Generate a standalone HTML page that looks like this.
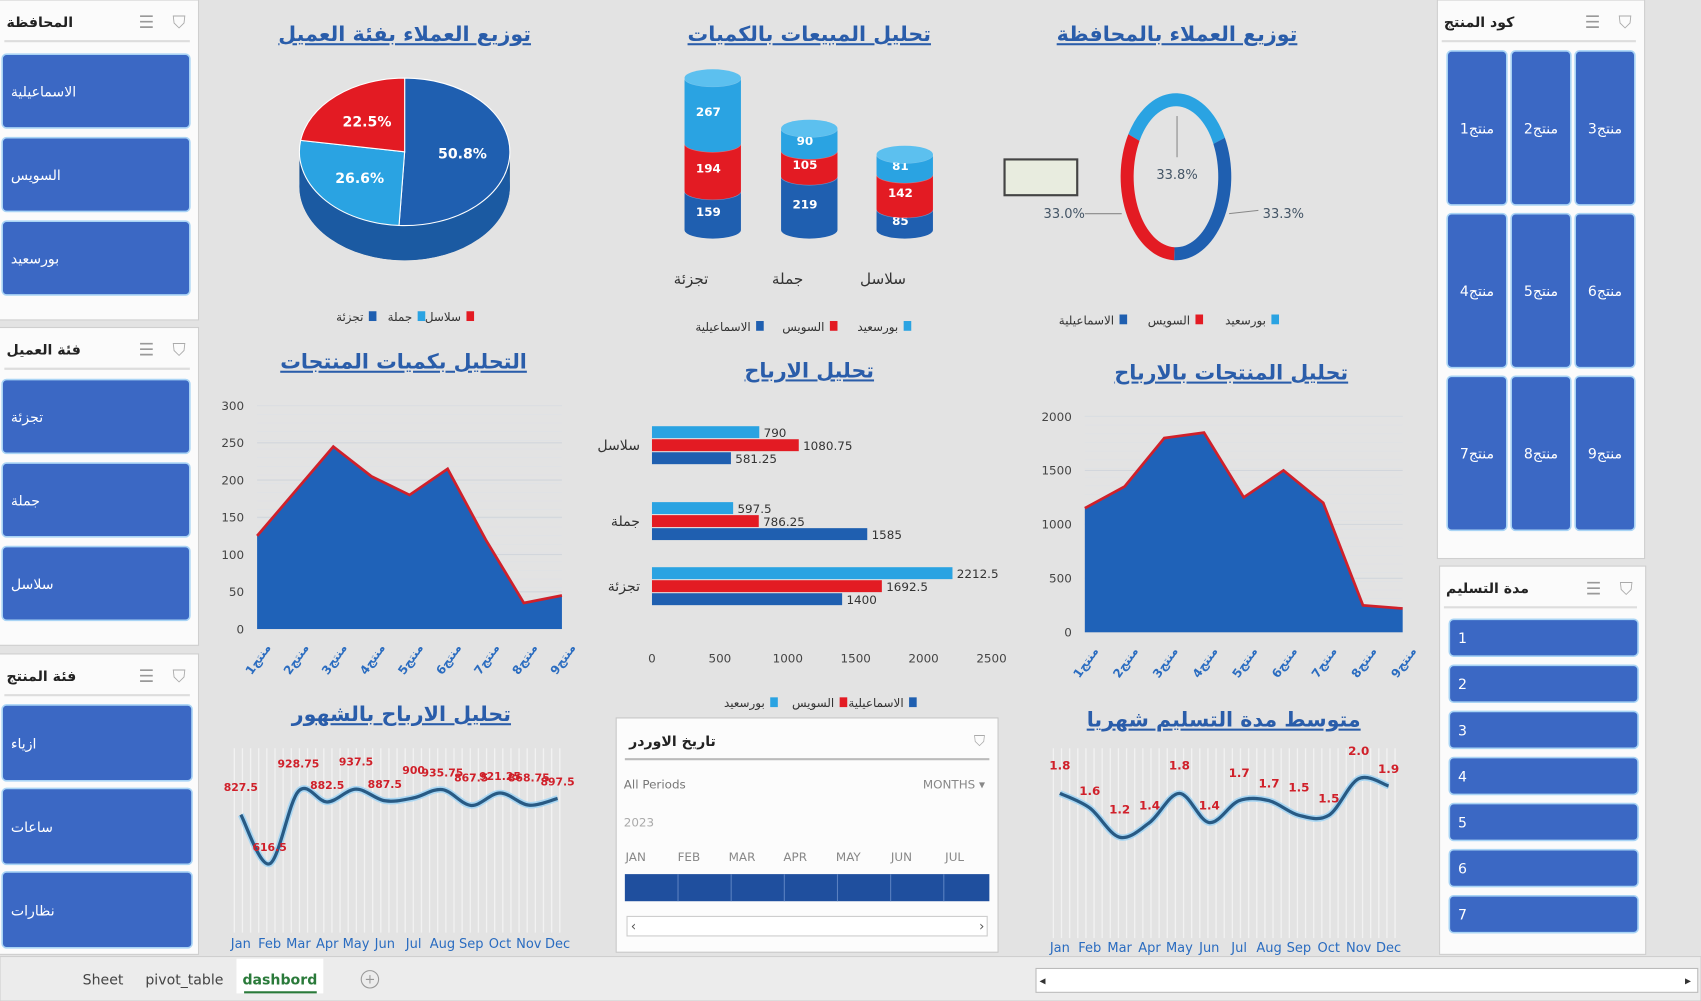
<!DOCTYPE html>
<html><head><meta charset="utf-8">
<style>
html,body{margin:0;padding:0;background:#e3e3e3;overflow:hidden}
svg{display:block}
text{font-family:"DejaVu Sans","Liberation Sans",sans-serif}
</style></head>
<body>
<svg id="s" width="1701" height="1001" viewBox="0 0 1568 923" preserveAspectRatio="none" xmlns="http://www.w3.org/2000/svg">
<rect x="0" y="0" width="1568" height="923" fill="#e3e3e3"/>
<g id="g"></g>
</svg>
<script>
// ---------- DATA ----------
const pieLabels = ['تجزئة','جملة','سلاسل'];
const pieValues = [50.8, 26.6, 22.5];
const cylCats = ['تجزئة','جملة','سلاسل'];
const cylIsmailia = [159, 219, 85];
const cylSuez = [194, 105, 142];
const cylPortSaid = [267, 90, 81];
const donutLabels = ['بورسعيد','الاسماعيلية','السويس'];
const donutValues = [33.8, 33.3, 33.0];
const donutText = ['33.8%','33.3%','33.0%'];
const qtyCats = ['منتج1','منتج2','منتج3','منتج4','منتج5','منتج6','منتج7','منتج8','منتج9'];
const qtyValues = [125, 185, 245, 205, 180, 215, 120, 35, 45];
const qtyTicks = [0,50,100,150,200,250,300];
const profCats = ['سلاسل','جملة','تجزئة'];
const profPortSaid = [790, 597.5, 2212.5];
const profSuez = [1080.75, 786.25, 1692.5];
const profIsmailia = [581.25, 1585, 1400];
const profTicks = [0,500,1000,1500,2000,2500];
const prodProfit = [1150, 1350, 1800, 1850, 1250, 1500, 1200, 250, 220];
const prodTicks = [0,500,1000,1500,2000];
const months = ['Jan','Feb','Mar','Apr','May','Jun','Jul','Aug','Sep','Oct','Nov','Dec'];
const monthProfit = [827.5, 616.5, 928.75, 882.5, 937.5, 887.5, 900, 935.75, 867.5, 921.25, 868.75, 897.5];
const monthProfitLbl = ['827.5','616.5','928.75','882.5','937.5','887.5','900','935.75','867.5','921.25','868.75','897.5'];
const delivery = [1.8, 1.6, 1.2, 1.4, 1.8, 1.4, 1.7, 1.7, 1.5, 1.5, 2.0, 1.9];
const govItems = ['الاسماعيلية','السويس','بورسعيد'];
const custItems = ['تجزئة','جملة','سلاسل'];
const prodCatItems = ['ازياء','ساعات','نظارات'];
const deliveryItems = ['1','2','3','4','5','6','7'];

const NS='http://www.w3.org/2000/svg';
const G=document.getElementById('g');
function mk(tag,attrs,parent){const e=document.createElementNS(NS,tag);for(const k in attrs)e.setAttribute(k,attrs[k]);(parent||G).appendChild(e);return e;}
function txt(x,y,s,size,fill,anchor,parent,weight){const t=mk('text',{x:x,y:y,'font-size':size,fill:fill,'text-anchor':anchor||'middle','font-weight':weight||'normal'},parent);t.textContent=s;return t;}
const DARK='#1f5fb0', LIGHT='#2aa3e2', RED='#e31b23', BTN='#3b68c4';

function title(x,y,s,name){
  const t=txt(x,y,s,19,'#2a5daa','middle',null,'bold');
  t.setAttribute('text-decoration','underline');
  
  
}

// ---------- Slicers ----------
function slicer(x,y,w,h,head,items,name){
  const g=mk('g',{});
  
  
  mk('rect',{x:x,y:y,width:w,height:h,fill:'#fbfbfb',stroke:'#cfcfcf'},g);
  txt(Math.max(x,0)+6, y+25, head, 13, '#222','start',g,'bold');
  txt(x+w-48, y+26,'☰',16,'#999','middle',g);
  txt(x+w-18, y+26,'⛉',16,'#aaa','middle',g);
  mk('line',{x1:Math.max(x,0)+4,x2:x+w-8,y1:y+38,y2:y+38,stroke:'#ddd','stroke-width':2},g);
  return g;
}
function btn(x,y,w,h,label,name,parent,anchor){
  const b=mk('g',{},parent);
  
  
  mk('rect',{x:x,y:y,width:w,height:h,rx:4,fill:BTN,stroke:'#a9d4f5','stroke-width':1.5},b);
  txt(anchor==='c'?x+w/2:x+8,y+h/2+5,label,13,'#fff',anchor==='c'?'middle':'start',b);
}
let s1=slicer(-10,0,193,295,'المحافظة',govItems,'governorate-slicer');
govItems.forEach((it,i)=>btn(2,50+i*77,173,68,it,'governorate-item',s1));
let s2=slicer(-10,302,193,293,'فئة العميل',custItems,'customer-category-slicer');
custItems.forEach((it,i)=>btn(2,350+i*77,173,68,it,'customer-category-item',s2));
let s3=slicer(-10,603,193,277,'فئة المنتج',prodCatItems,'product-category-slicer');
prodCatItems.forEach((it,i)=>btn(2,650+i*77,175,70,it,'product-category-item',s3));
let s4=slicer(1325,0,191,515,'كود المنتج',qtyCats,'product-code-slicer');
qtyCats.forEach((it,i)=>{const c=i%3,r=Math.floor(i/3);btn(1334+c*59,47+r*150,55,142,it,'product-code-item',s4,'c');});
let s5=slicer(1327,522,190,358,'مدة التسليم',deliveryItems,'delivery-duration-slicer');
deliveryItems.forEach((it,i)=>btn(1336,571+i*42.5,174,34,it,'delivery-duration-item',s5));

// ---------- Titles ----------
title(373,38,'توزيع العملاء بفئة العميل','pie-title');
title(746,38,'تحليل المبيعات بالكميات','cylinder-title');
title(1085,38,'توزيع العملاء بالمحافظة','donut-title');
title(372,340,'التحليل بكميات المنتجات','qty-area-title');
title(746,348,'تحليل الارباح','profit-bar-title');
title(1135,350,'تحليل المنتجات بالارباح','product-profit-title');
title(370,665,'تحليل الارباح بالشهور','monthly-profit-title');
title(1128,670,'متوسط مدة التسليم شهريا','delivery-title');

// ---------- Pie (3D) ----------
(function(){
  const cx=373,cy=140,rx=97,ry=68,d=32;
  const tot=pieValues.reduce((a,b)=>a+b,0);
  const cols=[DARK,LIGHT,RED];
  const side=mk('path',{d:`M${cx-rx},${cy} L${cx-rx},${cy+d} A${rx},${ry} 0 0 0 ${cx+rx},${cy+d} L${cx+rx},${cy} Z`,fill:'#15508f'});
  
  
  mk('ellipse',{cx:cx,cy:cy+d,rx:rx,ry:ry,fill:'#1b5aa2'});
  let a=-Math.PI/2;
  pieValues.forEach((v,i)=>{
    const a2=a+v/tot*2*Math.PI;
    const x1=cx+rx*Math.cos(a),y1=cy+ry*Math.sin(a),x2=cx+rx*Math.cos(a2),y2=cy+ry*Math.sin(a2);
    const p=mk('path',{d:`M${cx},${cy} L${x1},${y1} A${rx},${ry} 0 ${a2-a>Math.PI?1:0} 1 ${x2},${y2} Z`,fill:cols[i],stroke:'#fff','stroke-width':1});
    
    
    const m=(a+a2)/2;
    const t=txt(cx+rx*0.55*Math.cos(m),cy+ry*0.55*Math.sin(m)+5,v.toFixed(1)+'%',13,'#fff','middle',null,'bold');
    
    
    a=a2;
  });
  [ 'سلاسل','جملة','تجزئة'].forEach((l,i)=>{
    const c=[RED,LIGHT,DARK][i];
    mk('rect',{x:430-i*45,y:287,width:7,height:9,fill:c});
    const t=txt(425-i*45,296,l,11,'#333','end');
    
    
  });
})();

// ---------- Cylinders ----------
(function(){
  const base=212, k=0.226, w=52, ry=8;
  const xs=[657,746,834];
  cylCats.forEach((c,i)=>{
    const segs=[[cylIsmailia[i],DARK],[cylSuez[i],RED],[cylPortSaid[i],LIGHT]];
    let y=base;
    const g=mk('g',{});
    
    
    segs.forEach(([v,col],j)=>{
      const h=v*k, x=xs[i]-w/2, yt=y-h;
      mk('path',{d:`M${x},${yt} L${x},${y} A${w/2},${ry} 0 0 0 ${x+w},${y} L${x+w},${yt} Z`,fill:col},g);
      mk('path',{d:`M${x},${yt} A${w/2},${ry} 0 0 0 ${x+w},${yt}`,fill:'none',stroke:'rgba(255,255,255,0.35)','stroke-width':1},g);
      txt(xs[i]-4,y-h/2+5,String(v),11,'#fff','middle',g,'bold');
      y=yt;
    });
    mk('ellipse',{cx:xs[i],cy:y,rx:w/2,ry:ry,fill:'#5cc0ef'},g);
    const t=txt(xs[i]-20,262,c,14,'#333','middle');
    
    
  });
  ['بورسعيد','السويس','الاسماعيلية'].forEach((l,i)=>{
    const c=[LIGHT,RED,DARK][i];
    mk('rect',{x:833-i*68,y:296,width:7,height:9,fill:c});
    const t=txt(828-i*68,305,l,11,'#333','end');
    
    
  });
})();

// ---------- Donut ----------
(function(){
  const cx=1084,cy=163,rx=51,ry=77,th=12;
  mk('rect',{x:926,y:147,width:67,height:33,fill:'#e8ecdf',stroke:'#444','stroke-width':2});
  const tot=donutValues.reduce((a,b)=>a+b,0);
  const cols=[LIGHT,DARK,RED];
  let a=-Math.PI*0.83;
  donutValues.forEach((v,i)=>{
    const a2=a+v/tot*2*Math.PI;
    const P=(r1,r2,t)=>[cx+r1*Math.cos(t),cy+r2*Math.sin(t)];
    const [x1,y1]=P(rx,ry,a),[x2,y2]=P(rx,ry,a2),[x3,y3]=P(rx-th,ry-th,a2),[x4,y4]=P(rx-th,ry-th,a);
    const big=a2-a>Math.PI?1:0;
    const p=mk('path',{d:`M${x1},${y1} A${rx},${ry} 0 ${big} 1 ${x2},${y2} L${x3},${y3} A${rx-th},${ry-th} 0 ${big} 0 ${x4},${y4} Z`,fill:cols[i]});
    
    
    a=a2;
  });
  mk('line',{x1:1085,y1:107,x2:1085,y2:145,stroke:'#888'});
  mk('line',{x1:1000,y1:197,x2:1034,y2:197,stroke:'#888'});
  mk('line',{x1:1133,y1:197,x2:1160,y2:194,stroke:'#888'});
  [[1085,165,0],[1183,201,1],[981,201,2]].forEach(([x,y,i])=>{
    const t=txt(x,y,donutText[i],12,'#456','middle');
    
    
  });
  ['بورسعيد','السويس','الاسماعيلية'].forEach((l,i)=>{
    const c=[LIGHT,RED,DARK][i];
    mk('rect',{x:1172-i*70,y:290,width:7,height:9,fill:c});
    const t=txt(1167-i*70,299,l,11,'#333','end');
    
    
  });
})();

// ---------- Area charts ----------
function area(x0,x1,y0,yTop,max,ticks,vals,name,tickX){
  const sx=i=>x0+i*(x1-x0)/(vals.length-1), sy=v=>y0-(v/max)*(y0-yTop);
  const g=mk('g',{});
  
  
  ticks.forEach(t=>{
    mk('line',{x1:x0,x2:x1,y1:sy(t),y2:sy(t),stroke:'#d2d6dc','stroke-width':1},g);
    const lb=txt(tickX,sy(t)+4,String(t),11,'#444','end',g);
    
    
  });
  for(let y=yTop;y<y0;y+=8) mk('line',{x1:x0,x2:x1,y1:y,y2:y,stroke:'#dfe2e6','stroke-width':0.6},g);
  let d=`M${sx(0)},${y0}`;vals.forEach((v,i)=>d+=` L${sx(i)},${sy(v)}`);d+=` L${sx(vals.length-1)},${y0} Z`;
  const p=mk('path',{d:d,fill:'#1f62b8'},g);
  
  
  let l='';vals.forEach((v,i)=>l+=(i?' L':'M')+sx(i)+','+sy(v));
  mk('path',{d:l,fill:'none',stroke:'#d0202a','stroke-width':2.5},g);
  qtyCats.forEach((c,i)=>{
    const t=txt(sx(i)+4,y0+30,c,11,'#2a6cc0','middle',g,'bold');
    t.setAttribute('transform',`rotate(-55 ${sx(i)+4} ${y0+30})`);
    
    
  });
}
area(237,518,580,374,300,qtyTicks,qtyValues,'qty-area-chart',225);
area(1000,1293,583,384,2000,prodTicks,prodProfit,'product-profit-area-chart',988);

// ---------- Horizontal bar chart ----------
(function(){
  const x0=601, px=(914-601)/2500, sx=v=>x0+v*px;
  const g=mk('g',{});
  
  
  const centers=[411,481,541];
  profCats.forEach((c,i)=>{
    const cy=centers[i];
    const series=[[profPortSaid[i],LIGHT],[profSuez[i],RED],[profIsmailia[i],DARK]];
    series.forEach(([v,col],j)=>{
      const y=cy-18+j*12;
      const b=mk('rect',{x:x0,y:y,width:sx(v)-x0,height:11,fill:col},g);
      
      
      const t=txt(sx(v)+4,y+10,String(v),11,'#333','start',g);
      
      
    });
    const t=txt(590,cy+4,c,13,'#333','end',g);
    
    
  });
  profTicks.forEach(t=>{
    const l=txt(sx(t),611,String(t),11,'#444','middle',g);
    
    
  });
  ['الاسماعيلية','السويس','بورسعيد'].forEach((l,i)=>{
    const c=[DARK,RED,LIGHT][i];
    mk('rect',{x:838-i*64,y:643,width:7,height:9,fill:c},g);
    const t=txt(833-i*64,652,l,11,'#333','end',g);
    
    
  });
})();

// ---------- Smooth line charts ----------
function smooth(pts){
  let d=`M${pts[0][0]},${pts[0][1]}`;
  for(let i=0;i<pts.length-1;i++){
    const p0=pts[i-1]||pts[i],p1=pts[i],p2=pts[i+1],p3=pts[i+2]||p2;
    const c1=[p1[0]+(p2[0]-p0[0])/6,p1[1]+(p2[1]-p0[1])/6],c2=[p2[0]-(p3[0]-p1[0])/6,p2[1]-(p3[1]-p1[1])/6];
    d+=` C${c1[0]},${c1[1]} ${c2[0]},${c2[1]} ${p2[0]},${p2[1]}`;
  }
  return d;
}
function lineChart(x0,x1,vals,labels,vmin,vmax,yLo,yHi,name,gridTop,gridBot,monthY,fs){
  const sx=i=>x0+i*(x1-x0)/(vals.length-1), sy=v=>yLo-(v-vmin)/(vmax-vmin)*(yLo-yHi);
  const g=mk('g',{});
  
  
  for(let x=x0-6;x<=x1+6;x+=7.5) mk('line',{x1:x,x2:x,y1:gridTop,y2:gridBot,stroke:'#f2f2f2','stroke-width':1.2},g);
  const pts=vals.map((v,i)=>[sx(i),sy(v)]);
  mk('path',{d:smooth(pts),fill:'none',stroke:'#a9d6f2','stroke-width':6},g);
  const p=mk('path',{d:smooth(pts),fill:'none',stroke:'#285a84','stroke-width':3},g);
  
  
  vals.forEach((v,i)=>{
    const t=txt(sx(i),sy(v)-(i%2?12:22),labels[i],fs,'#d0202a','middle',g,'bold');
    
    
    const m=txt(sx(i),monthY,months[i],12,'#2a6cc0','middle',g);
    
    
  });
}
lineChart(222,514,monthProfit,monthProfitLbl,600,950,800,725,'monthly-profit-chart',690,860,874,10);
lineChart(977,1280,delivery,delivery.map(v=>v.toFixed(1)),1.2,2.0,772,718,'delivery-chart',690,865,878,11);

// ---------- Timeline ----------
(function(){
  const g=mk('g',{});
  
  
  mk('rect',{x:568,y:662,width:352,height:216,fill:'#fcfcfc',stroke:'#c8c8c8'},g);
  txt(580,688,'تاريخ الاوردر',13,'#222','start',g,'bold');
  txt(903,688,'⛉',14,'#aaa','middle',g);
  mk('line',{x1:576,x2:912,y1:700,y2:700,stroke:'#bbb','stroke-width':2},g);
  txt(575,727,'All Periods',11,'#777','start',g);
  txt(908,727,'MONTHS ▾',11,'#888','end',g);
  txt(575,762,'2023',11,'#aaa','start',g);
  ['JAN','FEB','MAR','APR','MAY','JUN','JUL'].forEach((m,i)=>txt(586+i*49,794,m,11,'#888','middle',g));
  mk('rect',{x:576,y:806,width:336,height:25,fill:'#1f4f9e'},g);
  for(let i=1;i<7;i++) mk('line',{x1:576+i*49,x2:576+i*49,y1:806,y2:831,stroke:'#5a80c0'},g);
  mk('rect',{x:578,y:845,width:332,height:18,fill:'#fff',stroke:'#ccc'},g);
  txt(584,858,'‹',12,'#555','middle',g);txt(905,858,'›',12,'#555','middle',g);
})();

// ---------- Bottom tab bar ----------
(function(){
  const g=mk('g',{});
  
  
  mk('rect',{x:0,y:882,width:1568,height:41,fill:'#ececec',stroke:'#cfcfcf'},g);
  const tabs=[['Sheet',95],['pivot_table',170],['dashbord',258]];
  tabs.forEach(([n,x],i)=>{
    if(i===2) mk('rect',{x:218,y:884,width:80,height:32,fill:'#fff'},g);
    const t=txt(x,908,n,13,i===2?'#2a7a3a':'#444','middle',g,i===2?'bold':'normal');
    
    
  });
  mk('line',{x1:225,x2:292,y1:915,y2:915,stroke:'#2a7a3a','stroke-width':2},g);
  mk('circle',{cx:341,cy:903,r:8,fill:'none',stroke:'#999'},g);
  txt(341,907,'+',12,'#999','middle',g);
  const sb=mk('rect',{x:955,y:893,width:610,height:22,fill:'#fff',stroke:'#bbb'},g);
  
  
  txt(961,908,'◂',11,'#333','middle',g);txt(1556,908,'▸',11,'#333','middle',g);
})();
</script>
</body></html>
